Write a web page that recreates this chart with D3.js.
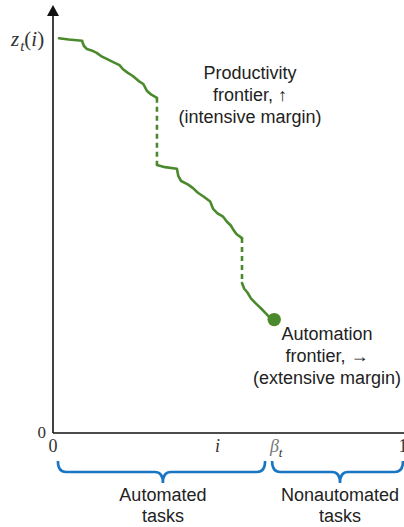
<!DOCTYPE html>
<html><head><meta charset="utf-8">
<script src="https://cdn.jsdelivr.net/npm/d3@7"></script>
<style>body{margin:0;background:#fff}svg{display:block}</style>
</head><body>
<svg id="c" width="404" height="527"></svg>
<script>
// Productivity frontier segments (i, z_t(i)) in unit coordinates
const segment1 = [[0.017,0.940],[0.045,0.937],[0.083,0.934],[0.088,0.922],[0.097,0.914],[0.110,0.911],[0.125,0.905],[0.140,0.896],[0.155,0.890],[0.172,0.883],[0.190,0.876],[0.200,0.866],[0.213,0.858],[0.228,0.850],[0.245,0.838],[0.258,0.831],[0.268,0.815],[0.280,0.806],[0.297,0.798]];
const segment2 = [[0.297,0.638],[0.320,0.633],[0.354,0.629],[0.358,0.612],[0.366,0.600],[0.385,0.592],[0.400,0.583],[0.414,0.572],[0.432,0.562],[0.449,0.551],[0.458,0.533],[0.470,0.523],[0.486,0.515],[0.497,0.503],[0.508,0.494],[0.516,0.483],[0.524,0.474],[0.540,0.464]];
const segment3 = [[0.540,0.357],[0.546,0.344],[0.556,0.334],[0.566,0.320],[0.580,0.308],[0.594,0.297],[0.608,0.285],[0.626,0.269]];
const jumps = [[0.297,0.798,0.638],[0.540,0.464,0.357]];
const frontierPoint = [0.632,0.270];
const xTicks = [{v:0,t:"0"},{v:0.47,t:"i"},{v:0.632,t:"β"},{v:1,t:"1"}];
const braces = [{a:0.014,b:0.606,tip:0.314,l1:"Automated",l2:"tasks"},{a:0.626,b:1.0,tip:0.82,l1:"Nonautomated",l2:"tasks"}];

const svg = d3.select("#c");
const x = d3.scaleLinear().domain([0,1]).range([53,403]);
const y = d3.scaleLinear().domain([0,1]).range([433,13]);
const green = "#4b8a2c", blue = "#1a76c2", ink = "#222";

// axes
svg.append("line").attr("x1",x(0)).attr("x2",404).attr("y1",y(0)).attr("y2",y(0)).attr("stroke","#111").attr("stroke-width",1.6);
svg.append("line").attr("x1",x(0)).attr("x2",x(0)).attr("y1",y(0)).attr("y2",14).attr("stroke","#111").attr("stroke-width",1.6);
svg.append("path").attr("d",`M${x(0)},5 L${x(0)-6},16 L${x(0)+6},16 Z`).attr("fill","#111");

// y labels
const zl = svg.append("text").attr("x",11).attr("y",46).attr("font-family","Liberation Serif").attr("font-size",21).attr("fill","#333");
zl.append("tspan").attr("font-style","italic").text("z");
zl.append("tspan").attr("font-style","italic").attr("font-size",15).attr("dy",5).attr("dx",1).text("t");
zl.append("tspan").attr("dy",-5).text("(");
zl.append("tspan").attr("font-style","italic").text("i");
zl.append("tspan").text(")");
svg.append("text").attr("x",x(0)-7).attr("y",y(0)+5).attr("text-anchor","end").attr("font-family","Liberation Serif").attr("font-size",17).attr("fill","#333").text("0");

// x tick labels
xTicks.forEach(d=>{
  const t = svg.append("text").attr("x",x(d.v)).attr("y",y(0)+19).attr("text-anchor","middle").attr("font-family","Liberation Serif").attr("font-size",18).attr("fill", d.t==="β" ? "#777" : "#333");
  if (d.t==="β") { t.append("tspan").attr("font-style","italic").text("β"); t.append("tspan").attr("font-style","italic").attr("font-size",13).attr("dy",5).attr("fill","#333").text("t"); t.attr("x",x(d.v)+2); }
  else if (d.t==="i") t.attr("font-style","italic").text("i");
  else t.text(d.t);
});

// frontier
const line = d3.line().x(d=>x(d[0])).y(d=>y(d[1])).curve(d3.curveLinear);
[segment1,segment2,segment3].forEach(s=>{
  svg.append("path").attr("d",line(s)).attr("fill","none").attr("stroke",green).attr("stroke-width",2.6).attr("stroke-linejoin","round").attr("stroke-linecap","round");
});
jumps.forEach(j=>{
  svg.append("line").attr("x1",x(j[0])).attr("x2",x(j[0])).attr("y1",y(j[1])).attr("y2",y(j[2])).attr("stroke",green).attr("stroke-width",2.6).attr("stroke-dasharray","5,4");
});
svg.append("circle").attr("cx",x(frontierPoint[0])).attr("cy",y(frontierPoint[1])).attr("r",6.7).attr("fill",green);

// annotations
const sans = "Liberation Sans, Arial, sans-serif";
function block(cx, y0, lines){
  lines.forEach((s,k)=>svg.append("text").attr("x",cx).attr("y",y0+k*22).attr("text-anchor","middle").attr("font-family",sans).attr("font-size",18).attr("fill",ink).text(s));
}
block(250,79,["Productivity","frontier, ↑","(intensive margin)"]);
block(327,340,["Automation","frontier, →","(extensive margin)"]);

// braces
const yTop = 461, yMid = 472, yTip = 483, r = 8;
braces.forEach(b=>{
  const a = x(b.a), c = x(b.b), t = x(b.tip);
  const d = `M${a},${yTop} Q${a},${yMid} ${a+r},${yMid} L${t-r},${yMid} Q${t},${yMid} ${t},${yTip} Q${t},${yMid} ${t+r},${yMid} L${c-r},${yMid} Q${c},${yMid} ${c},${yTop}`;
  svg.append("path").attr("d",d).attr("fill","none").attr("stroke",blue).attr("stroke-width",2.6);
  svg.append("text").attr("x",t).attr("y",501).attr("text-anchor","middle").attr("font-family",sans).attr("font-size",18).attr("fill",ink).text(b.l1);
  svg.append("text").attr("x",t).attr("y",522).attr("text-anchor","middle").attr("font-family",sans).attr("font-size",18).attr("fill",ink).text(b.l2);
});
</script>
</body></html>
